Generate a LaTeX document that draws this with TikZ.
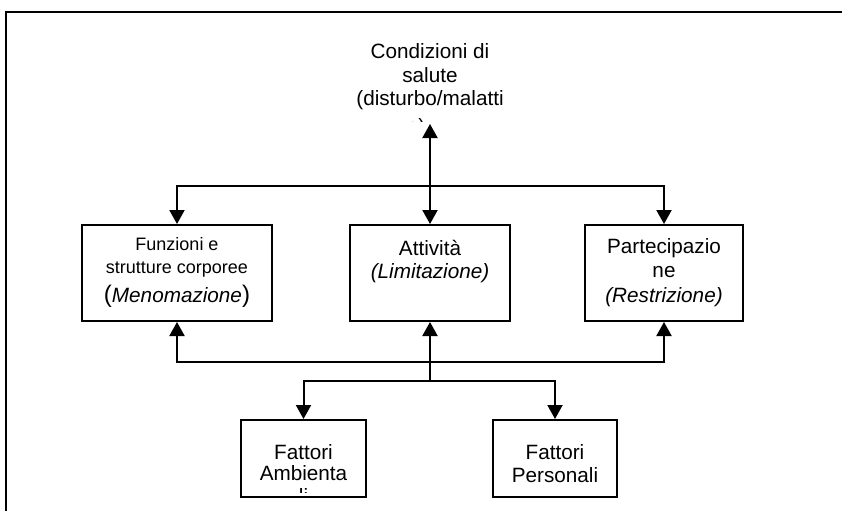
\documentclass[tikz,border=0pt]{standalone}
\usepackage{fontspec}
\setmainfont{Liberation Sans}
\usetikzlibrary{arrows.meta}
\begin{document}
\begin{tikzpicture}[x=1pt,y=-1pt,
  line width=2pt,
  box/.style={draw, line width=2pt, inner sep=0pt, anchor=center},
  txt/.style={anchor=base, inner sep=0pt, font=\fontsize{20.7}{23}\selectfont},
  smalltxt/.style={anchor=base, inner sep=0pt, font=\fontsize{18}{21}\selectfont},
  tip/.style={-{Triangle[width=15pt,length=14pt]}},
  bothtips/.style={{Triangle[width=15pt,length=14pt]}-{Triangle[width=15pt,length=14pt]}}
]
\useasboundingbox (0,0) rectangle (842,511);
\fill[white] (0,0) rectangle (842,511);

% outer frame (runs off the page at right and bottom)
\draw[line width=2.5pt] (842,12) -- (6,12) -- (6,511);

% heading; its last line is cut off by the text area
\node[txt] (t1) at (430,59) {Condizioni di};
\node[txt] (t2) at (430,82) {salute};
\node[txt] (t3) at (430,105) {(disturbo/malatti};
\begin{scope}
  \clip (300,100) rectangle (560,121.5);
  \node[txt] (t4) at (416,133) {a)};
\end{scope}

% boxes
\node[box, minimum width=190pt, minimum height=96pt] (body) at (177,273) {};
\node[box, minimum width=160pt, minimum height=96pt] (act)  at (430,273) {};
\node[box, minimum width=158pt, minimum height=96pt] (part) at (664,273) {};
\node[box, minimum width=125pt, minimum height=77pt] (env)  at (303.5,458.5) {};
\node[box, minimum width=124pt, minimum height=77pt] (pers) at (555,458.5) {};

% box texts
\node[smalltxt] (b1) at (177,250) {Funzioni e};
\node[smalltxt] (b2) at (177,273) {strutture corporee};
\node[txt] (b3) at (177,302) {{\fontsize{24}{24}\selectfont(}\textit{Menomazione}{\fontsize{24}{24}\selectfont)}};

\node[txt] (a1) at (430,255) {Attività};
\node[txt] (a2) at (430,278) {\textit{(Limitazione)}};

\node[txt] (p1) at (664,253) {Partecipazio};
\node[txt] (p2) at (664,277) {ne};
\node[txt] (p3) at (664,302) {\textit{(Restrizione)}};

\node[txt] (e1) at (303.5,459) {Fattori};
\node[txt] (e2) at (303.5,480) {Ambienta};
\begin{scope}
  \clip (250,484) rectangle (360,492);
  \node[txt] (e3) at (303.5,503) {li};
\end{scope}

\node[txt] (s1) at (555,459) {Fattori};
\node[txt] (s2) at (555,482) {Personali};

% connectors
\coordinate (top) at (430,124);
\coordinate (hu) at (430,186);
\coordinate (hl) at (430,362);
\coordinate (hf) at (430,381);

\draw[bothtips] (top) -- (act.north);
\draw[tip] (hu) -| (body.north);
\draw[tip] (hu) -| (part.north);

\draw[tip] (hf) -- (act.south);
\draw[tip] (hl) -| (body.south);
\draw[tip] (hl) -| (part.south);
\draw[tip] (hf) -| (env.north);
\draw[tip] (hf) -| (pers.north);
\end{tikzpicture}
\end{document}
